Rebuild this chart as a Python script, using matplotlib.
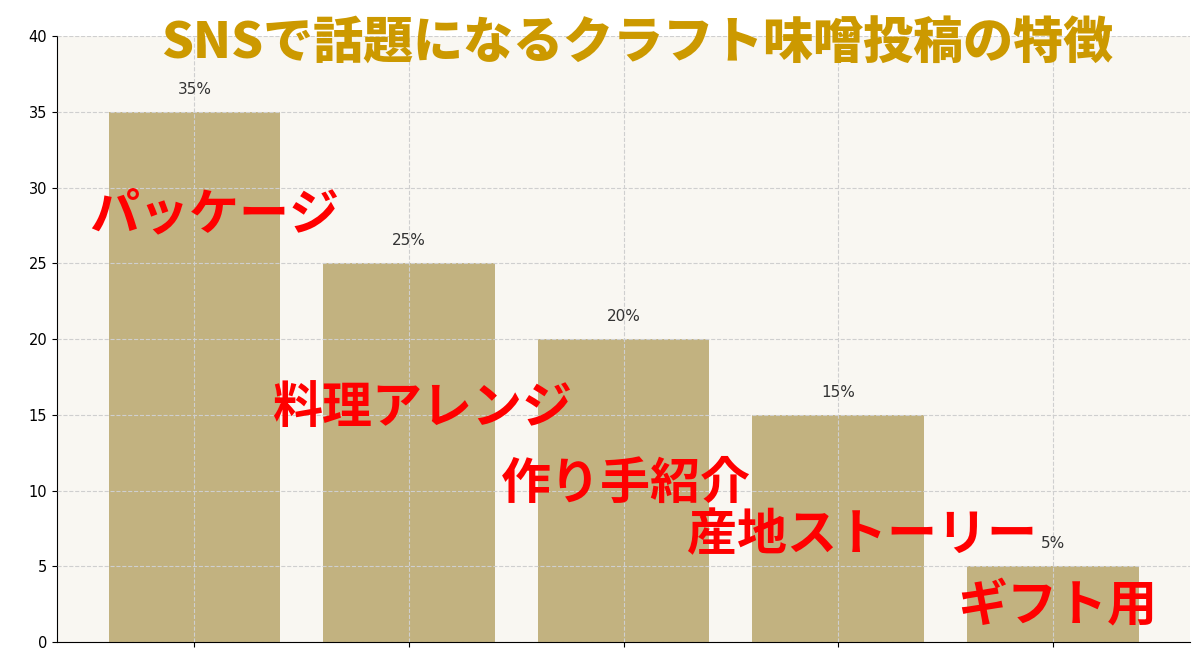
import numpy as np
import matplotlib.pyplot as plt

plt.rcParams["font.family"] = ["DejaVu Sans", "Noto Sans CJK JP"]

# Data
categories = ["パッケージ", "料理アレンジ", "作り手紹介", "産地ストーリー", "ギフト用"]
values = [35, 25, 20, 15, 5]
value_labels = ["35%", "25%", "20%", "15%", "5%"]
title = "SNSで話題になるクラフト味噌投稿の特徴"

# overlay label placement (x offset from bar, y in data units)
overlay_x = [0.09, 1.06, 2.01, 3.11, 4.02]
overlay_y = [28.2, 15.4, 10.4, 7.0, 2.3]

fig = plt.figure(figsize=(12, 6.71), dpi=100)
ax = fig.add_axes([0.0475, 0.0432, 0.9442, 0.9031])
ax.set_facecolor("#f9f7f2")

x = np.arange(len(categories))
ax.bar(x, values, width=0.8, color="#c2b280", zorder=2)
ax.grid(True, linestyle="--", color="#cfcfcf", linewidth=0.8, zorder=3)
ax.set_axisbelow(False)

for i in range(len(values)):
    ax.text(x[i], values[i] + 1.5, value_labels[i], ha="center", va="center",
            fontsize=11, color="#333333", zorder=4)

for i in range(len(categories)):
    ax.text(overlay_x[i], overlay_y[i], categories[i], ha="center", va="center",
            fontsize=36, fontweight="bold", color="#ff0000",
            family=["Noto Sans CJK JP"], zorder=5)

ax.set_ylim(0, 40)
ax.set_yticks(np.arange(0, 41, 5))
ax.set_xticks(x)
ax.set_xticklabels([])
ax.tick_params(axis="y", labelsize=10.5)
ax.spines["top"].set_visible(False)
ax.spines["right"].set_visible(False)

fig.text(0.531, 0.935, title, ha="center", va="center", fontsize=36,
         fontweight="heavy", color="#cc9900", family=["Noto Sans CJK JP"])

fig.savefig("out.png", dpi=100)
